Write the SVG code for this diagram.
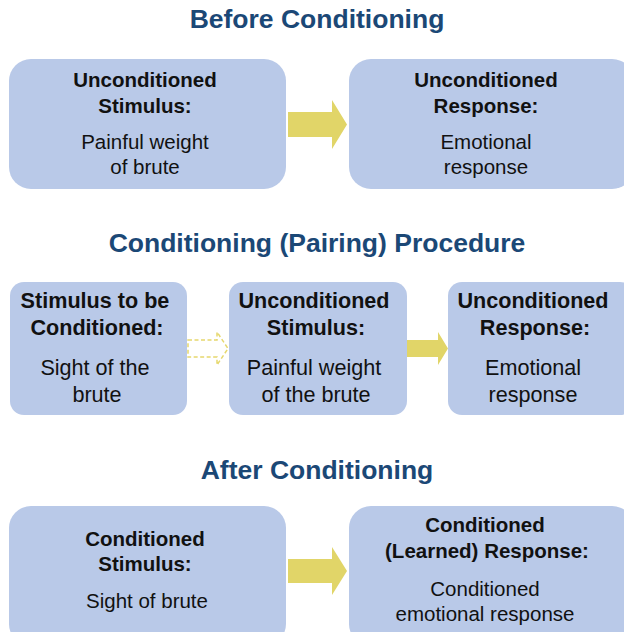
<svg xmlns="http://www.w3.org/2000/svg" width="624" height="632" viewBox="0 0 624 632">
<style>
.box{fill:#b9c9e8;}
.title{font-family:"Liberation Sans",Arial,sans-serif;font-weight:bold;font-size:26.5px;fill:#1b4876;text-anchor:middle;}
.b{font-family:"Liberation Sans",Arial,sans-serif;font-weight:bold;font-size:20.5px;fill:#111;text-anchor:middle;}
.t{font-family:"Liberation Sans",Arial,sans-serif;font-size:20.5px;fill:#111;text-anchor:middle;}
.r2{font-size:21.6px;}
.arrow{fill:#e1d568;}
.darrow{fill:none;stroke:#e6d86e;stroke-width:1.5;stroke-dasharray:4 2.5;}
</style>
<rect width="624" height="632" fill="#ffffff"/>
<text class="title" x="317" y="28">Before Conditioning</text>
<text class="title" x="317" y="252">Conditioning (Pairing) Procedure</text>
<text class="title" x="317" y="479">After Conditioning</text>

<g id="connectors">
<polygon class="arrow" points="288,112 332,112 332,100 347,124.5 332,149 332,137 288,137"/>
<polygon class="darrow" points="188,340 217,340 217,332 228,348.5 217,365 217,357 188,357"/>
<polygon class="arrow" points="407,340 438,340 438,332 448,348.5 438,365 438,357 407,357"/>
<polygon class="arrow" points="288,559 332,559 332,547 347,571 332,595 332,583 288,583"/>
</g>

<g id="before-us">
<rect class="box" x="9" y="59" width="277" height="130" rx="22"/>
<text class="b" x="145" y="87">Unconditioned</text>
<text class="b" x="145" y="113">Stimulus:</text>
<text class="t" x="145" y="149">Painful weight</text>
<text class="t" x="145" y="174">of brute</text>
</g>
<g id="before-ur">
<rect class="box" x="349" y="59" width="285" height="130" rx="22"/>
<text class="b" x="486" y="87">Unconditioned</text>
<text class="b" x="486" y="113">Response:</text>
<text class="t" x="486" y="149">Emotional</text>
<text class="t" x="486" y="174">response</text>
</g>

<g id="pair-ns">
<rect class="box" x="10" y="282" width="177" height="133" rx="14"/>
<text class="b r2" x="95" y="308">Stimulus to be</text>
<text class="b r2" x="97" y="335">Conditioned:</text>
<text class="t r2" x="95" y="375">Sight of the</text>
<text class="t r2" x="97" y="402">brute</text>
</g>
<g id="pair-us">
<rect class="box" x="229" y="282" width="178" height="133" rx="14"/>
<text class="b r2" x="314" y="308">Unconditioned</text>
<text class="b r2" x="316" y="335">Stimulus:</text>
<text class="t r2" x="314" y="375">Painful weight</text>
<text class="t r2" x="316" y="402">of the brute</text>
</g>
<g id="pair-ur">
<rect class="box" x="448" y="282" width="186" height="133" rx="14"/>
<text class="b r2" x="533" y="308">Unconditioned</text>
<text class="b r2" x="535" y="335">Response:</text>
<text class="t r2" x="533" y="375">Emotional</text>
<text class="t r2" x="533" y="402">response</text>
</g>

<g id="after-cs">
<rect class="box" x="9" y="506" width="277" height="140" rx="22"/>
<text class="b" x="145" y="546">Conditioned</text>
<text class="b" x="145" y="571">Stimulus:</text>
<text class="t" x="147" y="608">Sight of brute</text>
</g>
<g id="after-cr">
<rect class="box" x="349" y="506" width="285" height="140" rx="22"/>
<text class="b" x="485" y="532">Conditioned</text>
<text class="b" x="487" y="558">(Learned) Response:</text>
<text class="t" x="485" y="596">Conditioned</text>
<text class="t" x="485" y="621">emotional response</text>
</g>
</svg>
